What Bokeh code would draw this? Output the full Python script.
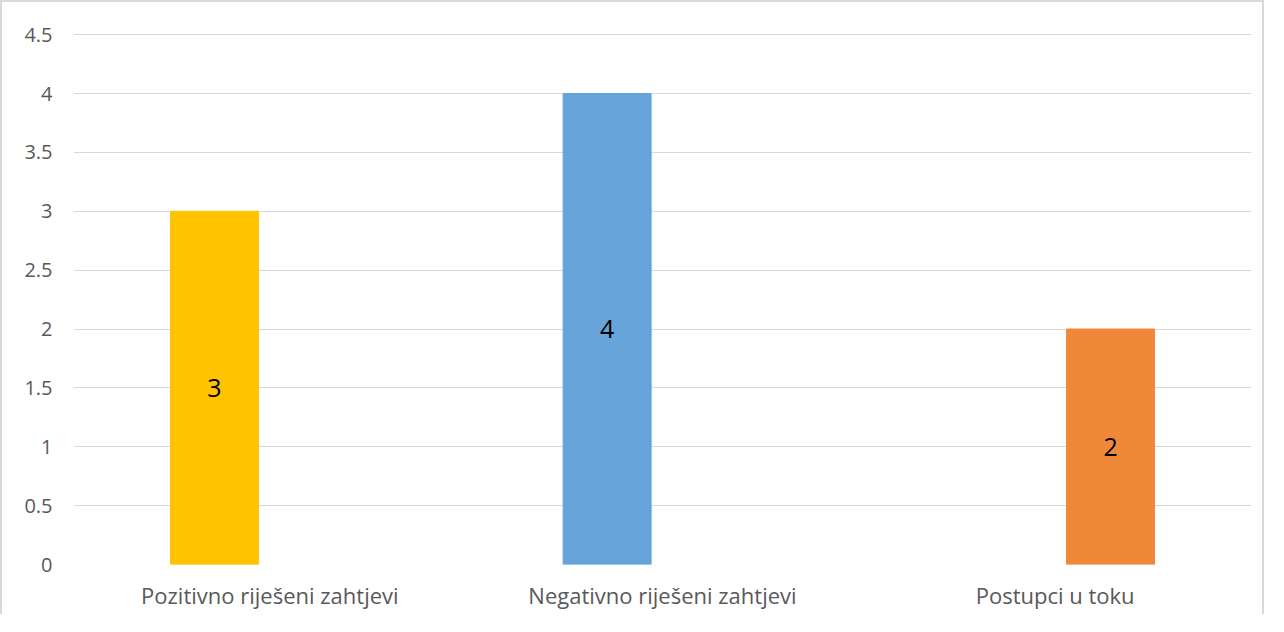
from bokeh.plotting import figure
from bokeh.models import FixedTicker, ColumnDataSource, Range1d
from bokeh.embed import file_html
from bokeh.resources import INLINE
from bokeh.core.properties import value

categories = ["Pozitivno riješeni zahtjevi", "Negativno riješeni zahtjevi", "Postupci u toku"]
values = [3, 4, 2]
series_slot = [0, 0, 1]  # which side of the two-series cluster each bar sits on
colors = ["#FFC300", "#66A4DA", "#F0883A"]
y_ticks = [0, 0.5, 1, 1.5, 2, 2.5, 3, 3.5, 4, 4.5]
y_tick_labels = ["0", "0.5", "1", "1.5", "2", "2.5", "3", "3.5", "4", "4.5"]

W, H = 1264, 614
p = figure(width=W, height=H, output_backend="svg", toolbar_location=None,
           x_range=Range1d(0, len(categories)), y_range=Range1d(0, 4.51),
           min_border_left=71, min_border_right=15, min_border_top=31, min_border_bottom=52)
p.styles = {"border-top": "2px solid #d9d9d9", "border-left": "2px solid #d9d9d9",
            "border-right": "2px solid #d9d9d9"}

bar_w = 0.224
off = 0.141
xs = [i + 0.5 + (-off if s == 0 else off) for i, s in enumerate(series_slot)]
src = ColumnDataSource(dict(x=xs, top=values, color=colors, mid=[v / 2 for v in values],
                            label=[str(v) for v in values]))
p.vbar(x="x", top="top", bottom=0, width=bar_w, color="color", source=src)
p.text(x="x", y="mid", text="label", source=src, text_align="center", text_baseline="middle",
       text_font=value("Open Sans"), text_font_size="25px", text_color="#000000")

p.xaxis.ticker = FixedTicker(ticks=[i + 0.5 for i in range(len(categories))])
p.xaxis.major_label_overrides = {i + 0.5: c for i, c in enumerate(categories)}
p.yaxis.ticker = FixedTicker(ticks=y_ticks)
p.yaxis.major_label_overrides = {t: l for t, l in zip(y_ticks, y_tick_labels)}

for ax in (p.xaxis, p.yaxis):
    ax.axis_line_color = None
    ax.major_tick_line_color = None
    ax.minor_tick_line_color = None
    ax.major_label_text_color = "#595959"
    ax.major_label_text_font = "Open Sans"
p.yaxis.major_label_text_font_size = "20px"
p.xaxis.major_label_text_font_size = "22px"
p.yaxis.major_label_standoff = 15
p.xaxis.major_label_standoff = 9

p.xgrid.grid_line_color = None
p.ygrid.grid_line_color = "#d9d9d9"
p.ygrid.ticker = FixedTicker(ticks=y_ticks)
p.outline_line_color = None

open("out.html", "w").write(file_html(p, INLINE))
